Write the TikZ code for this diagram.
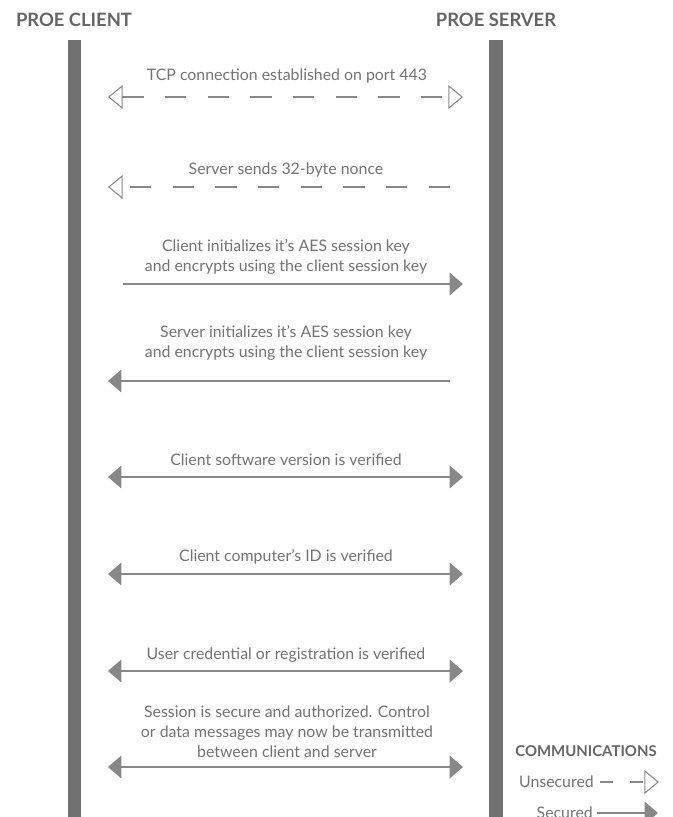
\documentclass[tikz,border=0pt]{standalone}
\usepackage{fontspec}
\setmainfont{Lato}
\usetikzlibrary{arrows.meta}

\definecolor{bargray}{HTML}{717171}
\definecolor{linegray}{HTML}{888888}
\definecolor{textgray}{HTML}{737373}
\definecolor{headgray}{HTML}{666666}

\tikzset{
  lifeline/.style={fill=bargray, draw=none},
  hdr/.style={headgray, font=\fontsize{13.8}{15}\selectfont\bfseries, inner sep=0pt},
  msg/.style={textgray, font=\fontsize{11.9}{15}\selectfont, align=center, inner sep=0pt},
  unsec/.style={linegray, line width=1pt, dash pattern=on 16pt off 16pt},
  sec/.style={linegray, line width=1pt},
  opentip/.style={-{Triangle[open, length=11pt, width=18pt, line width=0.8pt]}},
}

\begin{document}
\begin{tikzpicture}[x=0.75pt, y=-0.75pt]
             \useasboundingbox (0,0) rectangle (673,817);

             % lifelines
             \fill[lifeline] (68,40) rectangle (81,817);
             \fill[lifeline] (489,40) rectangle (503,817);
             \node[hdr] (client) at (74,20) {PROE CLIENT};
             \node[hdr] (server) at (496,20) {PROE SERVER};

             % unsecured messages
             \node[msg] (tcp) at (287,76) {TCP connection established on port 443};
             \coordinate (tcpL) at (108,97);
             \coordinate (tcpR) at (463,97);
             \draw[unsec, {Triangle[open, length=11pt, width=18pt, line width=0.8pt]}-{Triangle[open, length=11pt, width=18pt, line width=0.8pt]}] (tcpL) -- (tcpR);

             \node[msg] (nonce) at (286,170) {Server sends 32-byte nonce};
             \coordinate (nonceL) at (108,187);
             \coordinate (nonceR) at (450,187);
             \draw[unsec, opentip] (nonceR) -- (nonceL);

             % key exchange
             \node[msg] (cinit) at (286,257) {Client initializes it's AES session key\\and encrypts using the client session key};
             \coordinate (cinitL) at (123,284);
             \coordinate (cinitR) at (463,284);
             \draw[sec, -{Triangle[length=10pt, width=17pt]}] (cinitL) -- (cinitR);

             \node[msg] (sinit) at (286,343) {Server initializes it's AES session key\\and encrypts using the client session key};
             \coordinate (sinitL) at (108,381);
             \coordinate (sinitR) at (450,381);
             \draw[sec, -{Triangle[length=10pt, width=17pt]}] (sinitR) -- (sinitL);

             % secured messages
             \node[msg] (version) at (286,460) {Client software version is verified};
             \coordinate (versionL) at (108,477);
             \coordinate (versionR) at (463,477);
             \draw[sec, {Triangle[length=10pt, width=17pt]}-{Triangle[length=10pt, width=17pt]}] (versionL) -- (versionR);

             \node[msg] (compid) at (286,557) {Client computer's ID is verified};
             \coordinate (compidL) at (108,574);
             \coordinate (compidR) at (463,574);
             \draw[sec, {Triangle[length=10pt, width=17pt]}-{Triangle[length=10pt, width=17pt]}] (compidL) -- (compidR);

             \node[msg] (cred) at (286,655) {User credential or registration is verified};
             \coordinate (credL) at (108,671);
             \coordinate (credR) at (463,671);
             \draw[sec, {Triangle[length=10pt, width=17pt]}-{Triangle[length=10pt, width=17pt]}] (credL) -- (credR);

             \node[msg] (session) at (287,732) {Session is secure and authorized. Control\\or data messages may now be transmitted\\between client and server};
             \coordinate (sessionL) at (108,767);
             \coordinate (sessionR) at (463,767);
             \draw[sec, {Triangle[length=10pt, width=17pt]}-{Triangle[length=10pt, width=17pt]}] (sessionL) -- (sessionR);

             % legend
             \node[headgray, font=\fontsize{11.2}{12}\selectfont\bfseries, inner sep=0pt] (comm) at (586,751) {COMMUNICATIONS};
             \node[msg, anchor=east] (unsecured) at (594,782) {Unsecured};
             \coordinate (unsecA) at (600,782);
             \coordinate (unsecB) at (659,782);
             \draw[linegray, line width=1pt, dash pattern=on 10pt off 12.5pt, opentip] (unsecA) -- (unsecB);
             \node[msg, anchor=east] (secured) at (593,813) {Secured};
             \coordinate (secA) at (597,813);
             \coordinate (secB) at (658,813);
             \draw[sec, -{Triangle[length=10pt, width=17pt]}] (secA) -- (secB);
\end{tikzpicture}
\end{document}
